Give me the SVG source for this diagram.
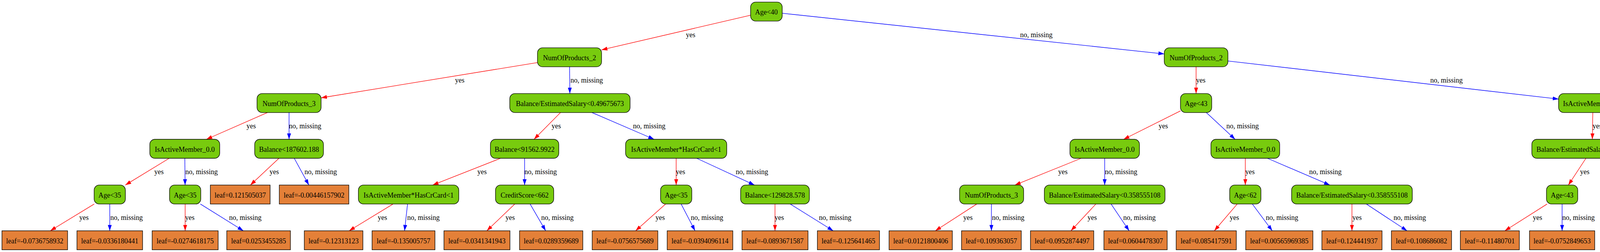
<svg xmlns="http://www.w3.org/2000/svg" width="5227" height="644" viewBox="0 0 5227 644">
<defs>
<style>
text{font-family:"Liberation Serif","Times New Roman",serif;font-size:18px;text-anchor:middle;fill:#000}
.c rect{fill:#78cb0e;stroke:#000;stroke-width:1.33}
.l rect{fill:#e48038;stroke:#000;stroke-width:1.33}
.y{stroke:#ff0000;stroke-width:1.33;fill:none;marker-end:url(#ar)}
.n{stroke:#0000ff;stroke-width:1.33;fill:none;marker-end:url(#ab)}
</style>
<marker id="ar" viewBox="0 0 15 10" refX="15" refY="5" markerWidth="15" markerHeight="10" markerUnits="userSpaceOnUse" orient="auto"><path d="M0,0 L15,5 L0,10 z" fill="#ff0000"/></marker>
<marker id="ab" viewBox="0 0 15 10" refX="15" refY="5" markerWidth="15" markerHeight="10" markerUnits="userSpaceOnUse" orient="auto"><path d="M0,0 L15,5 L0,10 z" fill="#0000ff"/></marker>
</defs>
<rect width="5227" height="644" fill="#fff"/>
<g id="connectors">
<path class="y" d="M1921.5,38.9 L1540,127.4"/><text x="1768" y="94.5">yes</text>
<path class="n" d="M2002.5,33.9 L2980.5,137.8"/><text x="2653" y="94.5">no, missing</text>
<path class="y" d="M1376,159.8 L822,250"/><text x="1177" y="211.4">yes</text>
<path class="n" d="M1458.2,170.7 L1458.8,239.1"/><text x="1502" y="211.4">no, missing</text>
<path class="y" d="M3062,170.7 L3062,239.1"/><text x="3074" y="211.4">yes</text>
<path class="n" d="M3143.5,155.8 L3990,253.2"/><text x="3703" y="211.4">no, missing</text>
<path class="y" d="M684.6,287.6 L528.4,356"/><text x="643" y="328.3">yes</text>
<path class="n" d="M740,287.6 L740,356"/><text x="781" y="328.3">no, missing</text>
<path class="y" d="M1434.9,287.6 L1367.1,356"/><text x="1424" y="328.3">yes</text>
<path class="n" d="M1515.4,287.6 L1674.6,356"/><text x="1662" y="328.3">no, missing</text>
<path class="y" d="M3022,283.3 L2876.5,356"/><text x="2978" y="328.3">yes</text>
<path class="n" d="M3088.1,287.6 L3161.9,356"/><text x="3181" y="328.3">no, missing</text>
<path class="y" d="M4077.6,287.6 L4076.4,356"/><text x="4089" y="328.3">yes</text>
<path class="n" d="M4166,281.1 L4617.5,372.1"/><text x="4460" y="328.3">no, missing</text>
<path class="y" d="M433.2,404.5 L320.8,472.9"/><text x="407" y="445.2">yes</text>
<path class="n" d="M473.2,404.5 L473.8,472.9"/><text x="516" y="445.2">no, missing</text>
<path class="y" d="M714.1,404.5 L640.9,472.9"/><text x="702" y="445.2">yes</text>
<path class="n" d="M753.3,404.5 L790.7,472.9"/><text x="821" y="445.2">no, missing</text>
<path class="y" d="M1281.4,404.5 L1107.6,472.9"/><text x="1234" y="445.2">yes</text>
<path class="n" d="M1343,404.5 L1343,472.9"/><text x="1384" y="445.2">no, missing</text>
<path class="y" d="M1731,404.5 L1731,472.9"/><text x="1742" y="445.2">yes</text>
<path class="n" d="M1783.5,404.5 L1931.5,472.9"/><text x="1925" y="445.2">no, missing</text>
<path class="y" d="M2767.9,404.5 L2598.1,472.9"/><text x="2721" y="445.2">yes</text>
<path class="n" d="M2828,404.5 L2828,472.9"/><text x="2870" y="445.2">no, missing</text>
<path class="y" d="M3188,404.5 L3188,472.9"/><text x="3200" y="445.2">yes</text>
<path class="n" d="M3244.6,404.5 L3404.4,472.9"/><text x="3393" y="445.2">no, missing</text>
<path class="y" d="M4060,404.5 L4015,472.9"/><text x="4057" y="445.2">yes</text>
<path class="n" d="M4099.9,404.5 L4167.1,472.9"/><text x="4188" y="445.2">no, missing</text>
<path class="y" d="M4658,404.5 L4658,472.9"/><text x="4670" y="445.2">yes</text>
<path class="n" d="M4698.5,396.1 L4917,481.5"/><text x="4878" y="445.2">no, missing</text>
<path class="y" d="M241.2,521.4 L128.8,589.8"/><text x="215" y="562.1">yes</text>
<path class="n" d="M281,521.4 L281,589.8"/><text x="324" y="562.1">no, missing</text>
<path class="y" d="M474,521.4 L474,589.8"/><text x="486" y="562.1">yes</text>
<path class="n" d="M513,521.4 L623,589.8"/><text x="628" y="562.1">no, missing</text>
<path class="y" d="M1006.2,521.4 L893.8,589.8"/><text x="979" y="562.1">yes</text>
<path class="n" d="M1043.3,521.4 L1035.7,589.8"/><text x="1084" y="562.1">no, missing</text>
<path class="y" d="M1317.7,521.4 L1246.3,589.8"/><text x="1306" y="562.1">yes</text>
<path class="n" d="M1357.1,521.4 L1396.9,589.8"/><text x="1427" y="562.1">no, missing</text>
<path class="y" d="M1703.8,521.4 L1627.2,589.8"/><text x="1690" y="562.1">yes</text>
<path class="n" d="M1743.7,521.4 L1779.3,589.8"/><text x="1810" y="562.1">no, missing</text>
<path class="y" d="M1984,521.4 L1984,589.8"/><text x="1995" y="562.1">yes</text>
<path class="n" d="M2023,521.4 L2133,589.8"/><text x="2138" y="562.1">no, missing</text>
<path class="y" d="M2500.5,521.4 L2394.5,589.8"/><text x="2478" y="562.1">yes</text>
<path class="n" d="M2538,521.4 L2538,589.8"/><text x="2581" y="562.1">no, missing</text>
<path class="y" d="M2805.4,521.4 L2741.6,589.8"/><text x="2796" y="562.1">yes</text>
<path class="n" d="M2844.4,521.4 L2890.6,589.8"/><text x="2917" y="562.1">no, missing</text>
<path class="y" d="M3167.3,521.4 L3108.7,589.8"/><text x="3160" y="562.1">yes</text>
<path class="n" d="M3206,521.4 L3257,589.8"/><text x="3282" y="562.1">no, missing</text>
<path class="y" d="M3461,521.4 L3461,589.8"/><text x="3474" y="562.1">yes</text>
<path class="n" d="M3497.9,521.4 L3602.1,589.8"/><text x="3609" y="562.1">no, missing</text>
<path class="y" d="M3960.6,521.4 L3852.4,589.8"/><text x="3936" y="562.1">yes</text>
<path class="n" d="M3999,521.4 L3999,589.8"/><text x="4041" y="562.1">no, missing</text>
<path class="y" d="M4191,521.4 L4190.2,589.8"/><text x="4203" y="562.1">yes</text>
<path class="n" d="M4231,521.2 L4344.8,589.8"/><text x="4349" y="562.1">no, missing</text>
<path class="y" d="M4641.8,521.4 L4596.2,589.8"/><text x="4638" y="562.1">yes</text>
<path class="n" d="M4681.2,521.4 L4746.8,589.8"/><text x="4768" y="562.1">no, missing</text>
<path class="y" d="M4957,521.4 L4957,589.8"/><text x="4970" y="562.1">yes</text>
<path class="n" d="M4995.8,521.4 L5105.2,589.8"/><text x="5111" y="562.1">no, missing</text>
</g>
<g id="n0" class="c"><rect x="1921.5" y="5.3" width="81" height="48.5" rx="13"/><text x="1962" y="37.1">Age&lt;40</text></g>
<g id="n1" class="c"><rect x="1376" y="122.2" width="164" height="48.5" rx="13"/><text x="1458" y="154">NumOfProducts_2</text></g>
<g id="n2" class="c"><rect x="2980.5" y="122.2" width="163" height="48.5" rx="13"/><text x="3062" y="154">NumOfProducts_2</text></g>
<g id="n3" class="c"><rect x="658" y="239.1" width="164" height="48.5" rx="13"/><text x="740" y="270.9">NumOfProducts_3</text></g>
<g id="n4" class="c"><rect x="1305" y="239.1" width="308" height="48.5" rx="13"/><text x="1459" y="270.9">Balance/EstimatedSalary&lt;0.49675673</text></g>
<g id="n5" class="c"><rect x="3022" y="239.1" width="80" height="48.5" rx="13"/><text x="3062" y="270.9">Age&lt;43</text></g>
<g id="n6" class="c"><rect x="3990" y="239.1" width="176" height="48.5" rx="13"/><text x="4078" y="270.9">IsActiveMember_0.0</text></g>
<g id="n7" class="c"><rect x="383.5" y="356" width="179" height="48.5" rx="13"/><text x="473" y="387.8">IsActiveMember_0.0</text></g>
<g id="n8" class="c"><rect x="652" y="356" width="176" height="48.5" rx="13"/><text x="740" y="387.8">Balance&lt;187602.188</text></g>
<g id="n9" class="c"><rect x="1255.5" y="356" width="175" height="48.5" rx="13"/><text x="1343" y="387.8">Balance&lt;91562.9922</text></g>
<g id="n10" class="c"><rect x="1601.5" y="356" width="259" height="48.5" rx="13"/><text x="1731" y="387.8">IsActiveMember*HasCrCard&lt;1</text></g>
<g id="n11" class="c"><rect x="2739" y="356" width="178" height="48.5" rx="13"/><text x="2828" y="387.8">IsActiveMember_0.0</text></g>
<g id="n12" class="c"><rect x="3100" y="356" width="176" height="48.5" rx="13"/><text x="3188" y="387.8">IsActiveMember_0.0</text></g>
<g id="n13" class="c"><rect x="3921.5" y="356" width="309" height="48.5" rx="13"/><text x="4076" y="387.8">Balance/EstimatedSalary&lt;0.481969029</text></g>
<g id="n14" class="c"><rect x="4617.5" y="356" width="81" height="48.5" rx="13"/><text x="4658" y="387.8">Age&lt;45</text></g>
<g id="n15" class="c"><rect x="241" y="472.9" width="80" height="48.5" rx="13"/><text x="281" y="504.7">Age&lt;35</text></g>
<g id="n16" class="c"><rect x="434" y="472.9" width="80" height="48.5" rx="13"/><text x="474" y="504.7">Age&lt;35</text></g>
<g id="l0" class="l"><rect x="538.5" y="472.9" width="153" height="48.5"/><text x="615" y="504.7">leaf=0.121505037</text></g>
<g id="l1" class="l"><rect x="715" y="472.9" width="178" height="48.5"/><text x="804" y="504.7">leaf=-0.00446157902</text></g>
<g id="n17" class="c"><rect x="917.5" y="472.9" width="257" height="48.5" rx="13"/><text x="1046" y="504.7">IsActiveMember*HasCrCard&lt;1</text></g>
<g id="n18" class="c"><rect x="1268.5" y="472.9" width="149" height="48.5" rx="13"/><text x="1343" y="504.7">CreditScore&lt;662</text></g>
<g id="n19" class="c"><rect x="1691" y="472.9" width="80" height="48.5" rx="13"/><text x="1731" y="504.7">Age&lt;35</text></g>
<g id="n20" class="c"><rect x="1896" y="472.9" width="176" height="48.5" rx="13"/><text x="1984" y="504.7">Balance&lt;129828.578</text></g>
<g id="n21" class="c"><rect x="2456.5" y="472.9" width="164" height="48.5" rx="13"/><text x="2538" y="504.7">NumOfProducts_3</text></g>
<g id="n22" class="c"><rect x="2673.5" y="472.9" width="309" height="48.5" rx="13"/><text x="2828" y="504.7">Balance/EstimatedSalary&lt;0.358555108</text></g>
<g id="n23" class="c"><rect x="3148" y="472.9" width="80" height="48.5" rx="13"/><text x="3188" y="504.7">Age&lt;62</text></g>
<g id="n24" class="c"><rect x="3306.5" y="472.9" width="309" height="48.5" rx="13"/><text x="3461" y="504.7">Balance/EstimatedSalary&lt;0.358555108</text></g>
<g id="n25" class="c"><rect x="3959" y="472.9" width="80" height="48.5" rx="13"/><text x="3999" y="504.7">Age&lt;43</text></g>
<g id="n26" class="c"><rect x="4151" y="472.9" width="80" height="48.5" rx="13"/><text x="4191" y="504.7">Age&lt;43</text></g>
<g id="n27" class="c"><rect x="4503" y="472.9" width="310" height="48.5" rx="13"/><text x="4658" y="504.7">Balance/EstimatedSalary&lt;0.553884625</text></g>
<g id="n28" class="c"><rect x="4917" y="472.9" width="80" height="48.5" rx="13"/><text x="4957" y="504.7">Age&lt;47</text></g>
<g id="l2" class="l"><rect x="5" y="589.8" width="168" height="48.5"/><text x="89" y="621.6">leaf=-0.0736758932</text></g>
<g id="l3" class="l"><rect x="197" y="589.8" width="168" height="48.5"/><text x="281" y="621.6">leaf=-0.0336180441</text></g>
<g id="l4" class="l"><rect x="389.5" y="589.8" width="169" height="48.5"/><text x="474" y="621.6">leaf=-0.0274618175</text></g>
<g id="l5" class="l"><rect x="580.5" y="589.8" width="163" height="48.5"/><text x="662" y="621.6">leaf=0.0253455285</text></g>
<g id="l6" class="l"><rect x="779" y="589.8" width="150" height="48.5"/><text x="854" y="621.6">leaf=-0.12313123</text></g>
<g id="l7" class="l"><rect x="952.5" y="589.8" width="161" height="48.5"/><text x="1033" y="621.6">leaf=-0.135005757</text></g>
<g id="l8" class="l"><rect x="1136.5" y="589.8" width="169" height="48.5"/><text x="1221" y="621.6">leaf=-0.0341341943</text></g>
<g id="l9" class="l"><rect x="1330" y="589.8" width="162" height="48.5"/><text x="1411" y="621.6">leaf=0.0289359689</text></g>
<g id="l10" class="l"><rect x="1516" y="589.8" width="168" height="48.5"/><text x="1600" y="621.6">leaf=-0.0756575689</text></g>
<g id="l11" class="l"><rect x="1708" y="589.8" width="168" height="48.5"/><text x="1792" y="621.6">leaf=-0.0394096114</text></g>
<g id="l12" class="l"><rect x="1899.5" y="589.8" width="169" height="48.5"/><text x="1984" y="621.6">leaf=-0.0893671587</text></g>
<g id="l13" class="l"><rect x="2092.5" y="589.8" width="159" height="48.5"/><text x="2172" y="621.6">leaf=-0.125641465</text></g>
<g id="l14" class="l"><rect x="2276" y="589.8" width="162" height="48.5"/><text x="2357" y="621.6">leaf=0.0121800406</text></g>
<g id="l15" class="l"><rect x="2461.5" y="589.8" width="153" height="48.5"/><text x="2538" y="621.6">leaf=0.109363057</text></g>
<g id="l16" class="l"><rect x="2638" y="589.8" width="162" height="48.5"/><text x="2719" y="621.6">leaf=0.0952874497</text></g>
<g id="l17" class="l"><rect x="2826" y="589.8" width="162" height="48.5"/><text x="2907" y="621.6">leaf=0.0604478307</text></g>
<g id="l18" class="l"><rect x="3011" y="589.8" width="154" height="48.5"/><text x="3088" y="621.6">leaf=0.085417591</text></g>
<g id="l19" class="l"><rect x="3189" y="589.8" width="172" height="48.5"/><text x="3275" y="621.6">leaf=0.00565969385</text></g>
<g id="l20" class="l"><rect x="3384" y="589.8" width="154" height="48.5"/><text x="3461" y="621.6">leaf=0.124441937</text></g>
<g id="l21" class="l"><rect x="3562" y="589.8" width="154" height="48.5"/><text x="3639" y="621.6">leaf=0.108686082</text></g>
<g id="l22" class="l"><rect x="3738.5" y="589.8" width="151" height="48.5"/><text x="3814" y="621.6">leaf=-0.11480701</text></g>
<g id="l23" class="l"><rect x="3915.5" y="589.8" width="167" height="48.5"/><text x="3999" y="621.6">leaf=-0.0752849653</text></g>
<g id="l24" class="l"><rect x="4105.5" y="589.8" width="169" height="48.5"/><text x="4190" y="621.6">leaf=-0.0514763705</text></g>
<g id="l25" class="l"><rect x="4299" y="589.8" width="172" height="48.5"/><text x="4385" y="621.6">leaf=0.00320778578</text></g>
<g id="l26" class="l"><rect x="4495.5" y="589.8" width="169" height="48.5"/><text x="4580" y="621.6">leaf=-0.0518474579</text></g>
<g id="l27" class="l"><rect x="4688.5" y="589.8" width="163" height="48.5"/><text x="4770" y="621.6">leaf=0.0212953202</text></g>
<g id="l28" class="l"><rect x="4875.5" y="589.8" width="163" height="48.5"/><text x="4957" y="621.6">leaf=0.0288126357</text></g>
<g id="l29" class="l"><rect x="5062.5" y="589.8" width="163" height="48.5"/><text x="5144" y="621.6">leaf=0.0749732554</text></g>
</svg>
